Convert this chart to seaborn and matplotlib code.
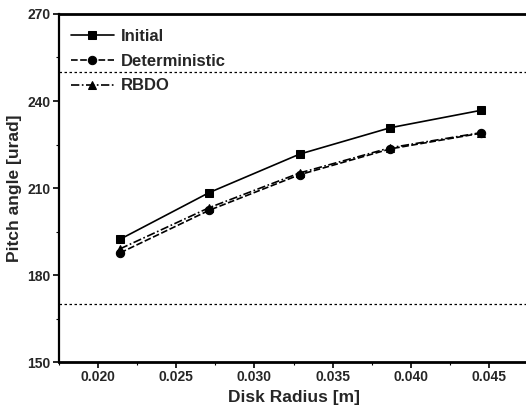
import matplotlib
matplotlib.use("Agg")
import matplotlib.pyplot as plt
import seaborn as sns
import pandas as pd
from matplotlib.ticker import MultipleLocator

radius = [0.0214, 0.0271, 0.0329, 0.0387, 0.0445]
initial = [192.3, 208.4, 221.7, 230.8, 236.8]
deterministic = [187.6, 202.3, 214.6, 223.5, 228.9]
rbdo = [189.0, 203.2, 215.2, 223.9, 229.1]
series_names = ["Initial", "Deterministic", "RBDO"]
limit_upper = 250
limit_lower = 170

df = pd.DataFrame({
    "Disk Radius [m]": radius * 3,
    "Pitch angle [urad]": initial + deterministic + rbdo,
    "series": [series_names[0]] * 5 + [series_names[1]] * 5 + [series_names[2]] * 5,
})

sns.set_style("ticks")
plt.rcParams["font.family"] = ["Liberation Sans", "DejaVu Sans"]

fig = plt.figure(figsize=(5.26, 4.08), dpi=100)
ax = fig.add_axes([0.112, 0.1127, 0.892, 0.853])

sns.lineplot(
    data=df, x="Disk Radius [m]", y="Pitch angle [urad]",
    hue="series", style="series",
    palette={n: "black" for n in series_names},
    markers={"Initial": "s", "Deterministic": "o", "RBDO": "^"},
    dashes={"Initial": "", "Deterministic": (4, 1.5), "RBDO": (5, 1.5, 1, 1.5)},
    markersize=6, linewidth=1.2, markeredgecolor="black",
    ax=ax, legend="auto",
)

ax.axhline(limit_upper, color="black", linestyle=(0, (2, 2)), linewidth=0.9)
ax.axhline(limit_lower, color="black", linestyle=(0, (2, 2)), linewidth=0.9)

ax.set_xlim(0.0175, 0.0475)
ax.set_ylim(150, 270)
ax.set_xticks([0.020, 0.025, 0.030, 0.035, 0.040, 0.045])
ax.set_xticklabels(["0.020", "0.025", "0.030", "0.035", "0.040", "0.045"])
ax.set_yticks([150, 180, 210, 240, 270])
ax.xaxis.set_minor_locator(MultipleLocator(0.0025))
ax.yaxis.set_minor_locator(MultipleLocator(15))

for lab in ax.get_xticklabels() + ax.get_yticklabels():
    lab.set_fontweight("bold")
    lab.set_fontsize(10)
ax.tick_params(axis="both", which="major", length=4, width=1.2, color="black", pad=2)
ax.tick_params(axis="both", which="minor", length=2, width=0.8, color="black")

ax.set_xlabel("Disk Radius [m]", fontsize=12.5, fontweight="bold", labelpad=4)
ax.set_ylabel("Pitch angle [urad]", fontsize=12.5, fontweight="bold", labelpad=4)

ax.spines["right"].set_visible(False)
ax.spines["top"].set_linewidth(2.0)
ax.spines["bottom"].set_linewidth(2.0)
ax.spines["left"].set_linewidth(1.6)
for s in ["top", "bottom", "left"]:
    ax.spines[s].set_color("black")

leg = ax.legend(loc="upper left", frameon=False, prop={"size": 12, "weight": "bold"},
                handlelength=2.6, handletextpad=0.4, labelspacing=0.58,
                borderaxespad=0.3, bbox_to_anchor=(0.0, 0.99))

fig.savefig("out.png", dpi=100)
